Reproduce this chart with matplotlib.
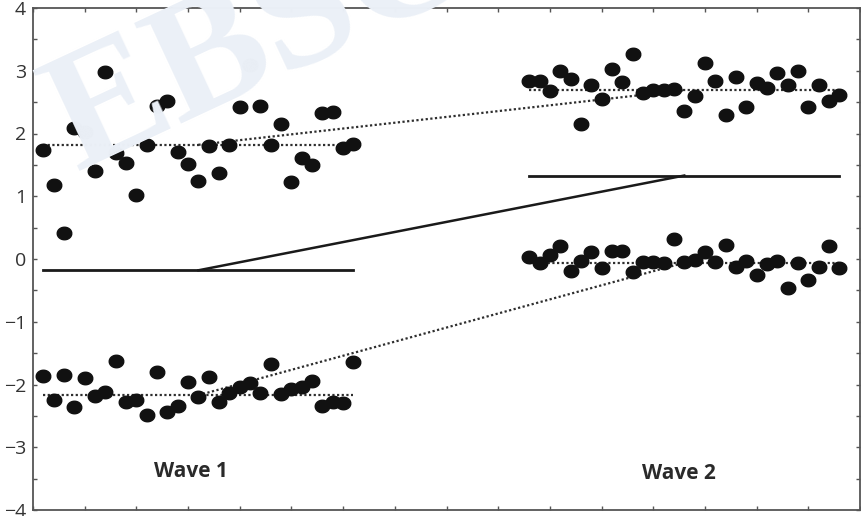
import numpy as np
import matplotlib
matplotlib.use("Agg")
import matplotlib.pyplot as plt
from matplotlib.path import Path

plt.rcParams['font.family'] = ['Open Sans', 'DejaVu Sans']

# measurement positions (0.2 apart) for each wave
x_w1 = np.round(np.arange(1, 32) * 0.2, 2)
x_w2 = np.round(9.4 + np.arange(1, 32) * 0.2, 2)

w1_upper = [1.74, 1.18, 0.41, 2.08, 2.03, 1.40, 2.98, 1.69, 1.53, 1.02, 1.82,
            2.44, 2.52, 1.71, 1.51, 1.25, 1.80, 1.37, 1.82, 2.42, 3.09, 2.44,
            1.82, 2.15, 1.23, 1.61, 1.50, 2.33, 2.34, 1.77, 1.83]
w1_lower = [-1.87, -2.25, -1.85, -2.36, -1.90, -2.18, -2.12, -1.63, -2.28, -2.25,
            -2.49, -1.80, -2.44, -2.34, -1.96, -2.20, -1.88, -2.28, -2.14, -2.04,
            -1.98, -2.14, -1.67, -2.15, -2.07, -2.04, -1.95, -2.34, -2.28, -2.30,
            -1.64]
w2_upper = [2.84, 2.84, 2.68, 3.00, 2.87, 2.15, 2.78, 2.55, 3.03, 2.82, 3.27,
            2.65, 2.69, 2.70, 2.71, 2.36, 2.60, 3.13, 2.83, 2.30, 2.90, 2.43,
            2.81, 2.73, 2.97, 2.77, 2.99, 2.43, 2.78, 2.52, 2.61]
w2_lower = [0.03, -0.07, 0.07, 0.21, -0.19, -0.03, 0.11, -0.14, 0.12, 0.12,
            -0.21, -0.05, -0.05, -0.06, 0.32, -0.05, -0.02, 0.11, -0.04, 0.22,
            -0.12, -0.03, -0.26, -0.08, -0.03, -0.46, -0.06, -0.33, -0.13, 0.21,
            -0.14]

# group levels (dotted = observed means, solid = latent level)
upper_mean = [1.82, 2.69]
lower_mean = [-2.17, -0.06]
solid_level = [-0.18, 1.33]
wave_labels = ['Wave 1', 'Wave 2']
label_x = [3.05, 12.5]
label_y = [-3.38, -3.42]

fig = plt.figure(figsize=(8.61, 5.16), dpi=100)
ax = fig.add_axes([33 / 861, 1 - 510 / 516, 827 / 861, 502 / 516])
ax.patch.set_visible(False)

# faint watermark
fig.text(26 / 861, 1 - 168 / 516, 'EBSCO', fontsize=122, family='Liberation Serif',
         fontweight='bold', color='#ebf0f7', rotation=25, ha='left',
         va='baseline', zorder=0)

t = np.linspace(0, 2 * np.pi, 40)
ell = Path(np.column_stack([np.cos(t), 0.86 * np.sin(t)]))

dot = dict(color='#2e2e2e', lw=1.6, ls=(0, (1, 1.1)), zorder=2)
for xs, m in [(x_w1, 0), (x_w2, 1)]:
    ax.plot([xs[0], xs[-1]], [upper_mean[m]] * 2, **dot)
    ax.plot([xs[0], xs[-1]], [lower_mean[m]] * 2, **dot)
    ax.plot([xs[0], xs[-1]], [solid_level[m]] * 2, color='#1a1a1a', lw=2.0, zorder=2)

cx = [np.mean(x_w1), np.mean(x_w2)]
ax.plot(cx, upper_mean, **dot)
ax.plot(cx, lower_mean, **dot)
ax.plot(cx, solid_level, color='#1a1a1a', lw=1.8, zorder=2)

for xs, ys in [(x_w1, w1_upper), (x_w1, w1_lower), (x_w2, w2_upper), (x_w2, w2_lower)]:
    ax.plot(xs, ys, ls='none', marker=ell, ms=10.5, color='#111111', zorder=3)

for lab, lx, ly in zip(wave_labels, label_x, label_y):
    ax.text(lx, ly, lab, fontsize=15, fontweight='bold', color='#2a2a2a',
            ha='center', va='center')

ax.set_xlim(0, 16)
ax.set_ylim(-4, 4)
ax.set_xticks(np.arange(0, 17, 1))
ax.set_xticklabels([])
ax.set_yticks(np.arange(-4, 5, 1))
ax.set_yticklabels([str(v).replace('-', '\u2212') for v in range(-4, 5)])
ax.set_yticks(np.arange(-3.5, 4, 1), minor=True)
ax.tick_params(axis='both', which='both', direction='in', length=3, width=1,
               color='#555555', top=True, right=True, labelsize=14,
               labelcolor='#333333', pad=5)
for s in ax.spines.values():
    s.set_color('#555555')
    s.set_linewidth(1.3)

fig.savefig('out.png', dpi=100)
